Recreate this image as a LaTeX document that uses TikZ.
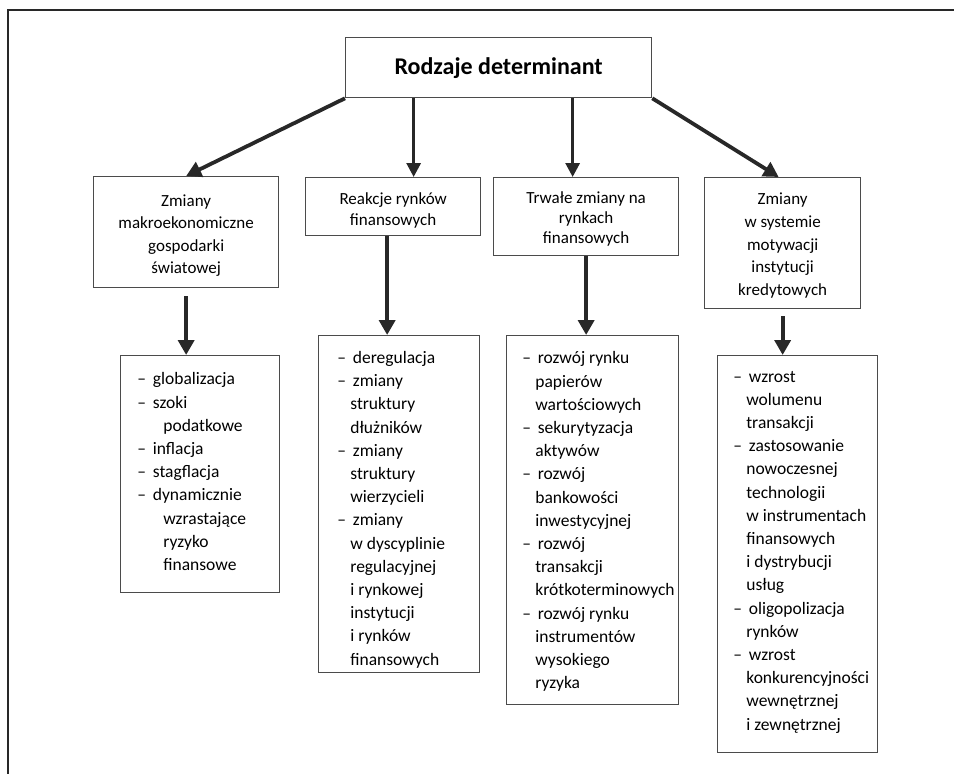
\documentclass[tikz,border=0pt]{standalone}
\usepackage{fontspec}
\setmainfont{Carlito}
\usetikzlibrary{arrows.meta,calc}

\definecolor{ramka}{RGB}{40,40,40}
\definecolor{brzeg}{RGB}{75,75,75}
\newcommand{\pkt}[1]{\makebox[15.5pt][l]{–}#1}
\newcommand{\dal}[1]{\hspace*{13pt}#1}
\newcommand{\dalej}[1]{\hspace*{26pt}#1}

\tikzset{every picture/.style={line width=0.75pt}}
\tikzset{
  ramkabox/.style={draw=brzeg, line width=1.3pt, anchor=north west, inner sep=0pt},
  kop/.style={align=center, inner sep=0pt, font=\fontsize{17}{22.6}\selectfont},
  lista/.style={align=left, inner sep=0pt, anchor=west, font=\fontsize{17.5}{23.2}\selectfont},
  pijl/.style={-{Triangle[length=14pt,width=14pt]}, line width=3pt, color=ramka},
  grubypijl/.style={-{Triangle[length=15pt,width=16pt]}, line width=3.8pt, color=ramka},
}

\begin{document}
\begin{tikzpicture}[x=1pt,y=1pt,yscale=-1,xscale=1]
\useasboundingbox (0,0) rectangle (954,774);

%Shape: Frame
\draw [color=ramka, line width=2pt] (954,10) -- (8,10) -- (8,774) ;

%Shape: Rectangles
\node [ramkabox, minimum width=306pt, minimum height=60pt] (t) at (345,37) {};
\node [ramkabox, minimum width=185pt, minimum height=111pt] (b1) at (93,176) {};
\node [ramkabox, minimum width=175pt, minimum height=58pt] (b2) at (305,177) {};
\node [ramkabox, minimum width=185pt, minimum height=78pt] (b3) at (493,177) {};
\node [ramkabox, minimum width=156pt, minimum height=131pt] (b4) at (704,177) {};
\node [ramkabox, minimum width=159pt, minimum height=237pt] (l1) at (120,355) {};
\node [ramkabox, minimum width=161pt, minimum height=337pt] (l2) at (318,335) {};
\node [ramkabox, minimum width=172pt, minimum height=369pt] (l3) at (506,335) {};
\node [ramkabox, minimum width=160pt, minimum height=397pt] (l4) at (717,355) {};

% Text Node
\node [kop, font=\fontsize{24}{28}\selectfont\bfseries] (tt) at (t.center) {Rodzaje determinant};

% Text Node
\node [kop] (b1t) at ($(b1.center)+(0,3.5)$) {Zmiany\\makroekonomiczne\\gospodarki\\światowej};
% Text Node
\node [kop, font=\fontsize{17}{21}\selectfont] (b2t) at ($(b2.center)+(0,3.5)$) {Reakcje rynków\\finansowych};
% Text Node
\node [kop, font=\fontsize{17}{20}\selectfont] (b3t) at ($(b3.center)+(0,2)$) {Trwałe zmiany na\\rynkach\\finansowych};
% Text Node
\node [kop] (b4t) at ($(b4.center)+(0,2.5)$) {Zmiany\\w systemie\\motywacji\\instytucji\\kredytowych};

% Text Node
\node [lista] (l1t) at ($(l1.west)+(17,-2.5)$) {\pkt{globalizacja}\\\pkt{szoki}\\\dalej{podatkowe}\\\pkt{inflacja}\\\pkt{stagflacja}\\\pkt{dynamicznie}\\\dalej{wzrastające}\\\dalej{ryzyko}\\\dalej{finansowe}};
% Text Node
\node [lista] (l2t) at ($(l2.west)+(19,5.5)$) {\pkt{deregulacja}\\\pkt{zmiany}\\\dal{struktury}\\\dal{dłużników}\\\pkt{zmiany}\\\dal{struktury}\\\dal{wierzycieli}\\\pkt{zmiany}\\\dal{w dyscyplinie}\\\dal{regulacyjnej}\\\dal{i rynkowej}\\\dal{instytucji}\\\dal{i rynków}\\\dal{finansowych}};
% Text Node
\node [lista] (l3t) at ($(l3.west)+(16,1.5)$) {\pkt{rozwój rynku}\\\dal{papierów}\\\dal{wartościowych}\\\pkt{sekurytyzacja}\\\dal{aktywów}\\\pkt{rozwój}\\\dal{bankowości}\\\dal{inwestycyjnej}\\\pkt{rozwój}\\\dal{transakcji}\\\dal{krótkoterminowych}\\\pkt{rozwój rynku}\\\dal{instrumentów}\\\dal{wysokiego}\\\dal{ryzyka}};
% Text Node
\node [lista] (l4t) at ($(l4.west)+(16,-2)$) {\pkt{wzrost}\\\dal{wolumenu}\\\dal{transakcji}\\\pkt{zastosowanie}\\\dal{nowoczesnej}\\\dal{technologii}\\\dal{w instrumentach}\\\dal{finansowych}\\\dal{i dystrybucji}\\\dal{usług}\\\pkt{oligopolizacja}\\\dal{rynków}\\\pkt{wzrost}\\\dal{konkurencyjności}\\\dal{wewnętrznej}\\\dal{i zewnętrznej}};

%Straight Lines
\draw [grubypijl] (t.south west) -- (b1.north) ;
\draw [pijl] ([xshift=20.5pt]b2.north |- t.south) -- ([xshift=20.5pt]b2.north) ;
\draw [pijl] ([xshift=-13.5pt]b3.north |- t.south) -- ([xshift=-13.5pt]b3.north) ;
\draw [grubypijl] (t.south east) -- ([xshift=-4pt]b4.north) ;

%Straight Lines
\draw [grubypijl, shorten <=8pt] (b1.south) -- (b1.south |- l1.north) ;
\draw [grubypijl] ([xshift=-6pt]b2.south) -- ([xshift=-6pt]b2.south |- l2.north) ;
\draw [grubypijl] (b3.south) -- (b3.south |- l3.north) ;
\draw [grubypijl, shorten <=7pt] (b4.south) -- (b4.south |- l4.north) ;

\end{tikzpicture}
\end{document}
